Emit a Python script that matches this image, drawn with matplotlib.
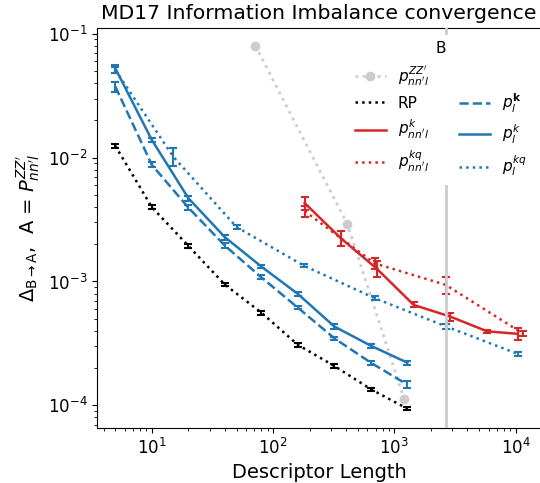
import matplotlib
matplotlib.use("Agg")
import matplotlib.pyplot as plt
from matplotlib.lines import Line2D

# ---- data ----
rp_x = [5, 10, 20, 40, 80, 160, 320, 640, 1280]
rp_y = [0.01245, 0.00398, 0.00194, 9.44e-4, 5.61e-4, 3.08e-4, 2.08e-4, 1.35e-4, 9.4e-5]
rp_e = [0.0005, 0.00015, 0.00007, 0.00003, 0.00002, 0.00001, 0.000006, 0.000004, 0.000003]

pkb_x = [5, 10, 20, 40, 80, 160, 320, 640, 1280]
pkb_y = [0.0375, 0.00875, 0.00395, 0.00195, 0.00108, 6.15e-4, 3.48e-4, 2.21e-4, 1.47e-4]
pkb_e = [0.0035, 0.0004, 0.00018, 0.00008, 0.00004, 0.00002, 0.00001, 0.000008, 0.000009]

pk_x = [5, 10, 20, 40, 80, 160, 320, 640, 1280]
pk_y = [0.0525, 0.0139, 0.00471, 0.00228, 0.00132, 7.94e-4, 4.33e-4, 3.03e-4, 2.21e-4]
pk_e = [0.004, 0.0006, 0.00022, 0.0001, 0.00004, 0.00003, 0.00002, 0.00001, 0.000008]

pkq_x = [5, 15, 50, 180, 690, 2650, 10450]
pkq_y = [0.051, 0.0102, 0.00275, 0.00134, 7.33e-4, 4.35e-4, 2.6e-4]
pkq_e = [0.003, 0.0017, 0.0001, 0.00004, 0.00003, 0.00002, 0.00001]

nk_x = [182, 361, 716, 1443, 2890, 5820, 10450]
nk_y = [0.0043, 0.00224, 0.00127, 6.47e-4, 5.21e-4, 3.96e-4, 3.78e-4]
nk_e = [0.0005, 0.0003, 0.00019, 0.00003, 0.00004, 0.00001, 0.00004]

nkq_x = [182, 690, 2650, 11500]
nkq_y = [0.0037, 0.00140, 9.4e-4, 3.8e-4]
nkq_e = [0.0004, 0.00015, 0.00014, 0.00002]

zz_x = [71.5, 410, 1205]
zz_y = [0.080, 0.0029, 1.12e-4]

vline_x = 2650

BLUE = '#1f77b4'
RED = '#d62728'
GRAY = '#cccccc'

fig = plt.figure(figsize=(5.4, 4.83), dpi=100)
ax = fig.add_axes([97.3/540, 1-427.7/483, (541-97.3)/540, (427.7-27.7)/483])

eb = dict(capsize=3, elinewidth=1.5, capthick=1.5, lw=1.8)

h_zz, = ax.plot(zz_x, zz_y, ':', color=GRAY, marker='o', ms=6, lw=2)
ax.errorbar(rp_x, rp_y, yerr=rp_e, color='black', ls=':', **eb)
ax.errorbar(nk_x, nk_y, yerr=nk_e, color=RED, ls='-', **eb)
ax.errorbar(nkq_x, nkq_y, yerr=nkq_e, color=RED, ls=':', **eb)
ax.errorbar(pkb_x, pkb_y, yerr=pkb_e, color=BLUE, ls='--', **eb)
ax.errorbar(pk_x, pk_y, yerr=pk_e, color=BLUE, ls='-', **eb)
ax.errorbar(pkq_x, pkq_y, yerr=pkq_e, color=BLUE, ls=':', **eb)
ax.axvline(vline_x, color=GRAY, lw=2, zorder=3)

ax.set_xscale('log')
ax.set_yscale('log')
ax.set_xlim(3.55, 16200)
ax.set_ylim(6.6e-5, 0.112)

ax.tick_params(labelsize=12)
ax.set_xlabel('Descriptor Length', fontsize=14)
ax.set_ylabel(r"$\Delta_{\rm B\rightarrow A}$,  A = $P^{ZZ'}_{nn'l}$", fontsize=14)
ax.set_title('MD17 Information Imbalance convergence', fontsize=14.7)

handles = [
    Line2D([], [], color=GRAY, ls=':', marker='o', lw=2, ms=6),
    Line2D([], [], color='black', ls=':', lw=1.8),
    Line2D([], [], color=RED, ls='-', lw=1.8),
    Line2D([], [], color=RED, ls=':', lw=1.8),
    Line2D([], [], ls='none'),
    Line2D([], [], color=BLUE, ls='--', lw=1.8),
    Line2D([], [], color=BLUE, ls='-', lw=1.8),
    Line2D([], [], color=BLUE, ls=':', lw=1.8),
]
labels = [r"$p^{ZZ'}_{nn'l}$", 'RP', r"$p^{k}_{nn'l}$", r"$p^{kq}_{nn'l}$",
          ' ', r"$p^{\mathbf{k}}_{l}$", r"$p^{k}_{l}$", r"$p^{kq}_{l}$"]
leg = ax.legend(handles, labels, ncol=2, loc='upper right', title='B',
                fontsize=11, title_fontsize=11, frameon=True, framealpha=1,
                edgecolor='none', facecolor='white')
leg.set_zorder(10)

fig.savefig('out.png', dpi=100)
